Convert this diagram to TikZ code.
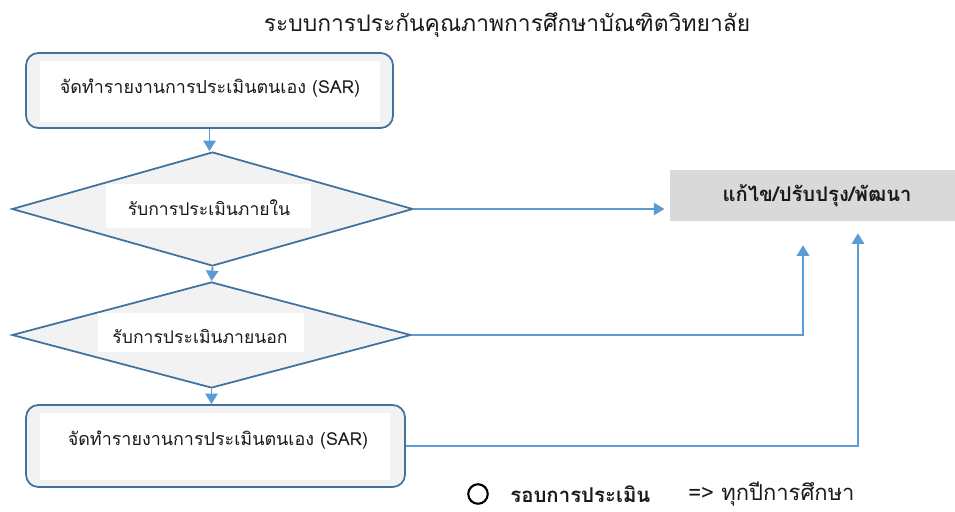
\documentclass[tikz,border=0pt]{standalone}
\usepackage{fontspec}
\setmainfont{Loma}[Script=Thai]
\usepackage{tikz}
\usetikzlibrary{calc, positioning, shapes.geometric, arrows.meta}
\definecolor{borderBlue}{HTML}{41719C}
\definecolor{arrowBlue}{HTML}{5B9BD5}
\definecolor{bgShape}{HTML}{F2F2F2}
\definecolor{bgFix}{HTML}{D9D9D9}
\definecolor{textDark}{HTML}{1A1A1A}
\tikzset{
  sarBox/.style={draw=borderBlue, fill=bgShape, line width=1pt, rounded corners=7pt, inner sep=0pt},
  checkBox/.style={diamond, draw=borderBlue, fill=bgShape, line width=1pt, inner sep=0pt},
  whitePad/.style={fill=white, inner sep=0pt},
  flowText/.style={text=textDark, font=\fontsize{10.2}{12}\selectfont, inner sep=0pt},
  flowArrow/.style={draw=arrowBlue, line width=1.1pt, -{Triangle[length=6pt,width=7pt]}},
}

\begin{document}
\begin{tikzpicture}[x=0.02cm, y=-0.02cm]
  \useasboundingbox[fill=white] (0,0) rectangle (955,511);

  \node[text=textDark, font=\fontsize{13}{16}\selectfont] (title) at (507,25)
    {ระบบการประกันคุณภาพการศึกษาบัณฑิตวิทยาลัย};

  % report box (top)
  \node[sarBox, minimum width=7.34cm, minimum height=1.5cm] (sar1) at (209.5,90.5) {};
  \node[whitePad, minimum width=6.8cm, minimum height=1.22cm] (sar1pad) at (210,91.5) {};
  \node[flowText] (sar1txt) at (210,88) {จัดทำรายงานการประเมินตนเอง (SAR)};

  % internal assessment
  \node[checkBox, aspect=3.52, minimum width=8.02cm, minimum height=2.28cm] (inner) at (212.5,209) {};
  \node[whitePad, minimum width=4.1cm, minimum height=0.88cm] (innerpad) at (208.5,206) {};
  \node[flowText, font=\fontsize{10}{12}\selectfont] (innertxt) at (209,208) {รับการประเมินภายใน};

  % external assessment
  \node[checkBox, aspect=3.76, minimum width=7.98cm, minimum height=2.12cm] (outer) at (211.5,335) {};
  \node[whitePad, minimum width=4.12cm, minimum height=0.78cm] (outerpad) at (201,332.5) {};
  \node[flowText, font=\fontsize{10}{12}\selectfont] (outertxt) at (200,336) {รับการประเมินภายนอก};

  % report box (bottom)
  \node[sarBox, minimum width=7.58cm, minimum height=1.64cm] (sar2) at (215.5,446) {};
  \node[whitePad, minimum width=7cm, minimum height=1.34cm] (sar2pad) at (215,446.5) {};
  \node[flowText] (sar2txt) at (218,440) {จัดทำรายงานการประเมินตนเอง (SAR)};

  % improvement
  \node[fill=bgFix, minimum width=5.7cm, minimum height=1.02cm, inner sep=0pt] (fix) at (812.5,195.5) {};
  \node[flowText, font=\fontsize{11.5}{14}\selectfont\bfseries] (fixtxt) at (817,196) {แก้ไข/ปรับปรุง/พัฒนา};

  \draw[flowArrow] (sar1.south) -- (sar1.south |- inner.north);
  \draw[flowArrow] (inner.south) -- (outer.north);
  \draw[flowArrow] (outer.south) -- (outer.south |- sar2.north);
  \draw[flowArrow, shorten >=3pt] (inner.east) -- (fix.west |- inner.east);
  \draw[flowArrow, shorten >=13.6pt] (outer.east) -| ([xshift=-0.19cm]fix.south);
  \draw[flowArrow, shorten >=6.8pt] (sar2.east) -| ([xshift=0.91cm]fix.south);

  % legend
  \node[circle, draw=black, line width=1.2pt, minimum size=0.39cm, inner sep=0pt] (dot) at (478,494) {};
  \node[flowText, anchor=west, font=\fontsize{11.6}{14}\selectfont\bfseries] (roundtxt) at (510,494) {รอบการประเมิน};
  \node[flowText, anchor=west, font=\fontsize{12.5}{14}\selectfont] (yeartxt) at (688,494) {=> ทุกปีการศึกษา};
\end{tikzpicture}
\end{document}
